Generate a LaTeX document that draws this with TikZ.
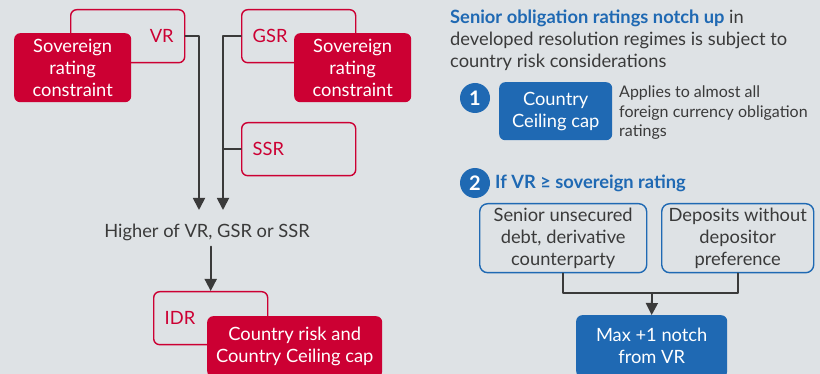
\documentclass[tikz,border=0pt]{standalone}
\usepackage{fontspec}
\setmainfont{Lato}
\usetikzlibrary{arrows.meta,positioning}
\definecolor{bgray}{HTML}{DEE2E5}
\definecolor{fred}{HTML}{CC0033}
\definecolor{fblue}{HTML}{1F69B3}
\definecolor{tgray}{HTML}{3A3A3A}
\newcommand{\bodyfont}{\fontsize{18.3}{22}\selectfont}
\newcommand{\notefont}{\fontsize{16}{19.5}\selectfont}

\begin{document}
\begin{tikzpicture}[x=1pt, y=-1pt, line cap=round, line join=round,
  outlinebox/.style={draw=fred, line width=1.4pt, rounded corners=6pt, fill=bgray,
    minimum height=53pt, text width=92pt, inner xsep=11pt, inner ysep=0pt, text=fred, font=\bodyfont},
  redbox/.style={fill=fred, rounded corners=6pt, text=white, align=center, font=\bodyfont, inner sep=0pt},
  bluebox/.style={fill=fblue, rounded corners=6pt, text=white, align=center, font=\bodyfont, inner sep=0pt},
  blueline/.style={draw=fblue, line width=1.4pt, fill=bgray, rounded corners=8pt, text=tgray,
    align=center, font=\bodyfont, inner sep=0pt},
  numdot/.style={circle, fill=fblue, text=white, font=\fontsize{20}{20}\selectfont\bfseries,
    minimum size=30pt, inner sep=0pt},
  link/.style={draw=tgray, line width=1.8pt},
  flow/.style={link, -{Triangle[width=12pt,length=12pt]}}]
  \useasboundingbox (0,0) rectangle (820,374);
  \clip (0,0) rectangle (820,374);
  \fill[bgray] (0,0) rectangle (820,374);

  % Left: ratings feeding the IDR
  \node[outlinebox, align=right, anchor=north west] (vr) at (70,9) {VR};
  \node[redbox, minimum width=117pt, minimum height=69pt, anchor=north west] (sovl) at (14,33) {Sovereign\\rating\\constraint};
  \node[outlinebox, align=left, anchor=north west] (gsr) at (241,9) {GSR};
  \node[redbox, minimum width=117pt, minimum height=69pt, anchor=north west] (sovr) at (294,33) {Sovereign\\rating\\constraint};
  \node[outlinebox, align=left, anchor=north west] (ssr) at (241,122) {SSR};

  \node[text=tgray, font=\bodyfont, inner sep=0pt] (higher) at (207,232) {Higher of VR, GSR or SSR};
  \coordinate (vrin) at (199,210);
  \coordinate (gsrin) at (223,210);
  \draw[flow] (vr.east) -| (vrin);
  \draw[flow] (gsr.west) -| (gsrin);
  \draw[link] (ssr.west) -- (ssr.west -| gsrin);

  \node[outlinebox, align=left, anchor=north west] (idr) at (153,291) {IDR};
  \node[redbox, minimum width=175pt, minimum height=61pt, anchor=north west] (cntry) at (207,316) {Country risk and\\Country Ceiling cap};
  \draw[flow, shorten <=6pt] (higher.south -| idr.north) -- (idr.north);

  % Right: senior obligations
  \node[anchor=north west, align=left, text=tgray, font=\bodyfont, inner sep=0pt] (title) at (450,10)
    {\textcolor{fblue}{\bfseries Senior obligation ratings notch up} in\\developed resolution regimes is subject to\\country risk considerations};

  \node[numdot] (one) at (475,98) {1};
  \node[bluebox, minimum width=113pt, minimum height=58pt, anchor=north west] (ceiling) at (499,82) {Country\\Ceiling cap};
  \node[anchor=west, align=left, text=tgray, font=\notefont, inner sep=0pt] (applies) at (619,113)
    {Applies to almost all\\foreign currency obligation\\ratings};

  \node[numdot] (two) at (475,183) {2};
  \node[anchor=west, text=fblue, font=\bodyfont\bfseries, inner sep=0pt] (ifvr) at (495,183) {If VR ≥ sovereign rating};
  \node[blueline, minimum width=167pt, minimum height=69pt, anchor=north west] (senior) at (479,203) {Senior unsecured\\debt, derivative\\counterparty};
  \node[blueline, minimum width=152pt, minimum height=69pt, anchor=north west] (deposits) at (661,203) {Deposits without\\depositor\\preference};
  \node[bluebox, minimum width=151pt, minimum height=62pt, anchor=north west] (maxnotch) at (576,315) {Max +1 notch\\from VR};
  \coordinate (merge) at (652,293);
  \draw[link] (senior.south) |- (merge) -| (deposits.south);
  \draw[flow] (merge) -- (maxnotch.north);
\end{tikzpicture}
\end{document}
